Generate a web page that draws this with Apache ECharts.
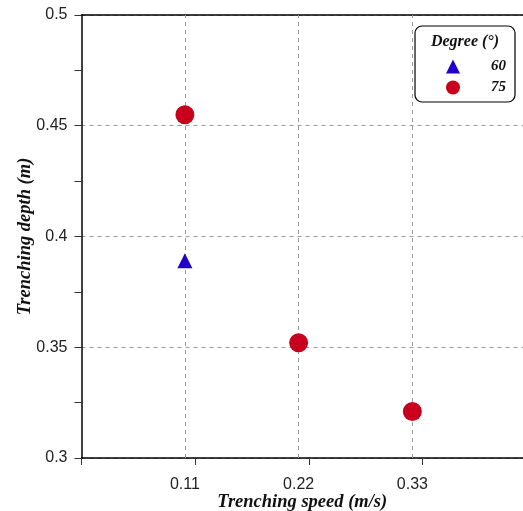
<!DOCTYPE html>
<html>
<head>
<meta charset="utf-8">
<script src="https://cdn.jsdelivr.net/npm/echarts@6/dist/echarts.min.js"></script>
<style>html,body{margin:0;padding:0;background:#fff;}#c{width:523px;height:511px;}</style>
</head>
<body>
<div id="c"></div>
<script>
var xTicks = [0.11, 0.22, 0.33];
var yTicks = [0.3, 0.35, 0.4, 0.45, 0.5];
var seriesNames = ['60', '75'];
var speed60 = [0.11];
var depth60 = [0.389];
var speed75 = [0.11, 0.22, 0.33];
var depth75 = [0.455, 0.352, 0.321];

function pairs(xs, ys) { return xs.map(function (x, i) { return [x, ys[i]]; }); }

var chart = echarts.init(document.getElementById('c'));
var serif = '"Liberation Serif", "Times New Roman", serif';
var sans = '"Liberation Sans", Arial, sans-serif';
chart.setOption({
  animation: false,
  backgroundColor: '#fff',
  grid: { left: 81.5, right: 0, top: 15, bottom: 53, outerBoundsMode: 'none', containLabel: false },
  xAxis: [{
    type: 'value', min: 0.01, max: 0.437, interval: 0.11,
    name: 'Trenching speed (m/s)', nameLocation: 'middle', nameGap: 35, nameMoveOverlap: false,
    nameTextStyle: { fontFamily: serif, fontStyle: 'italic', fontWeight: 'bold', fontSize: 18.5, color: '#111' },
    axisLine: { lineStyle: { color: '#000', width: 1.5 } },
    axisTick: { show: true, inside: false, length: 7, lineStyle: { color: '#333' } },
    axisLabel: { customValues: xTicks, fontFamily: sans, fontSize: 16, color: '#222', margin: 19 },
    splitLine: { show: false }
  }, {
    type: 'value', position: 'top', min: 0.01, max: 0.437,
    axisLine: { show: true, lineStyle: { color: '#000', width: 1.5 } },
    axisTick: { show: false }, axisLabel: { show: false }, splitLine: { show: false }
  }],
  yAxis: {
    type: 'value', min: 0.3, max: 0.5, interval: 0.05,
    name: 'Trenching depth (m)', nameLocation: 'middle', nameGap: 47, nameMoveOverlap: false,
    nameTextStyle: { fontFamily: serif, fontStyle: 'italic', fontWeight: 'bold', fontSize: 18.5, color: '#111' },
    axisLine: { show: true, lineStyle: { color: '#000', width: 1.5 } },
    axisTick: { show: true, inside: false, length: 7, lineStyle: { color: '#333' } },
    minorTick: { show: true, splitNumber: 2, length: 7, lineStyle: { color: '#333' } },
    axisLabel: { fontFamily: sans, fontSize: 16, color: '#222', margin: 14 },
    splitLine: { show: true, lineStyle: { color: '#999', type: [4, 4], width: 1 } }
  },
  legend: {
    orient: 'vertical', left: 446, top: 59, padding: 0, z: 20,
    itemWidth: 14, itemHeight: 14, itemGap: 6,
    data: [{ name: '60', icon: 'triangle' }, { name: '75', icon: 'circle' }],
    formatter: '{a|{name}}',
    textStyle: { rich: { a: { width: 41, align: 'right', fontFamily: serif, fontStyle: 'italic', fontWeight: 'bold', fontSize: 15, color: '#111' } } }
  },
  graphic: [
    { type: 'rect', x: 415, y: 26, z: 5, shape: { x: 0, y: 0, width: 100, height: 76, r: 7 },
      style: { fill: '#fff', stroke: '#000', lineWidth: 1.2 } },
    { type: 'text', x: 465, y: 34, z: 6,
      style: { text: 'Degree (°)', font: 'italic bold 16px ' + serif, fill: '#111', align: 'center', verticalAlign: 'top' } }
  ],
  series: [{
    type: 'scatter', name: 'grid', data: [], silent: true, z: 1,
    markLine: {
      silent: true, symbol: 'none', label: { show: false }, z: 1,
      lineStyle: { color: '#999', type: [4, 4], width: 1 },
      data: xTicks.map(function (v) { return { xAxis: v }; })
    }
  }, {
    type: 'scatter', name: seriesNames[0], symbol: 'triangle', symbolSize: 15, z: 3,
    itemStyle: { color: '#2200CC', opacity: 1 }, data: pairs(speed60, depth60)
  }, {
    type: 'scatter', name: seriesNames[1], symbol: 'circle', symbolSize: 19, z: 3,
    itemStyle: { color: '#C8001E', opacity: 1 }, data: pairs(speed75, depth75)
  }]
});
</script>
</body>
</html>
